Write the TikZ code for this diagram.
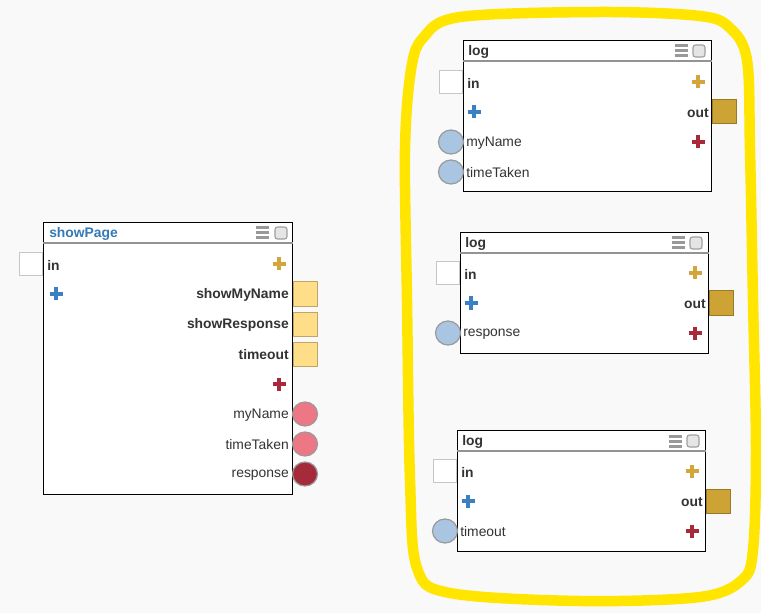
\documentclass[tikz,border=0pt]{standalone}
\usepackage{fontspec}
\setmainfont{Liberation Sans}
\usepackage{tikz}
\usetikzlibrary{positioning,shapes.geometric}
\newcommand{\pxu}{0.75pt}
\definecolor{bgcol}{HTML}{F9F9F9}
\definecolor{textdark}{HTML}{333333}
\definecolor{titleblue}{HTML}{337AB7}
\definecolor{plusgold}{HTML}{D2A63A}
\definecolor{plusblue}{HTML}{3A80C2}
\definecolor{plusred}{HTML}{A8293A}
\definecolor{lightport}{HTML}{FFDE8A}
\definecolor{goldport}{HTML}{CCA334}
\definecolor{pinkport}{HTML}{EE7786}
\definecolor{darkport}{HTML}{A52A3A}
\definecolor{blueport}{HTML}{A9C5E1}
\definecolor{marker}{HTML}{FFE500}

\begin{document}
\begin{tikzpicture}[x=0.75pt, y=-0.75pt,
  block/.style={draw=black, fill=white, line width=1.3*\pxu, anchor=north west, inner sep=0},
  titlerule/.style={draw=gray!85, line width=1.2*\pxu},
  lbl/.style={inner sep=0, text=textdark, font=\fontsize{10.4}{12}\selectfont},
  blbl/.style={lbl, font=\bfseries\fontsize{10.4}{12}\selectfont},
  inport/.style={draw=gray!45, fill=white, line width=\pxu, minimum size=23*\pxu, anchor=east, inner sep=0},
  outport/.style={draw=#1!75!black, fill=#1, line width=\pxu, minimum size=24*\pxu, anchor=west, inner sep=0},
  dotport/.style={ellipse, draw=gray!80, fill=#1, line width=1.2*\pxu, minimum width=25*\pxu, minimum height=24*\pxu, inner sep=0},
  addmark/.pic={\draw[line width=3.6*\pxu] (-6.5,0) -- (6.5,0) (0,-6.5) -- (0,6.5);},
  menumark/.pic={\draw[gray!80, line width=3*\pxu] (-6.5,-5) -- (6.5,-5) (-6.5,0) -- (6.5,0) (-6.5,5) -- (6.5,5);},
  boxmark/.pic={\draw[gray!75, fill=gray!20, rounded corners=2.5*\pxu, line width=1.1*\pxu] (-6,-6) rectangle (6,6);}
]
\fill[bgcol] (0,0) rectangle (761,613);
\useasboundingbox (0,0) rectangle (761,613);

% showPage block
\node[block, minimum width=249*\pxu, minimum height=272*\pxu] (showpage) at (43,222) {};
\draw[titlerule] ([yshift=-21*\pxu]showpage.north west) -- ([yshift=-21*\pxu]showpage.north east);
\node[blbl, text=titleblue, anchor=west] (sp-title) at (49,234) {showPage};
\pic at (262,233) {menumark};
\pic at (281,233) {boxmark};
\node[inport] (sp-in) at (43,264) {};
\node[blbl, anchor=west] (sp-inl) at (47,265) {in};
\pic[color=plusgold] at (279,264) {addmark};
\pic[color=plusblue] at (56,294) {addmark};
\foreach \y/\name in {294/showMyName, 324/showResponse, 354/timeout} {
  \node[blbl, anchor=east] (sp-\name-l) at (289,\y+1) {\name};
  \node[outport=lightport] (sp-\name) at (293,\y) {};
}
\pic[color=plusred] at (279,384) {addmark};
\foreach \y/\name/\col in {414/myName/pinkport, 444/timeTaken/pinkport, 474/response/darkport} {
  \node[lbl, anchor=east] (sp-\name-l) at (289,\y+1) {\name};
  \node[dotport=\col] (sp-\name) at (305,\y) {};
}

% log blocks
\node[block, minimum width=248*\pxu, minimum height=151*\pxu] (logname) at (463,40) {};
\draw[titlerule] ([yshift=-21*\pxu]logname.north west) -- ([yshift=-21*\pxu]logname.north east);
\node[blbl, anchor=west] (ln-title) at (468,52) {log};
\pic at (681,51) {menumark};
\pic at (699,51) {boxmark};
\node[inport] (ln-in) at (463,82) {};
\node[blbl, anchor=west] (ln-inl) at (467,83) {in};
\pic[color=plusgold] at (698,82) {addmark};
\pic[color=plusblue] at (474,112) {addmark};
\node[blbl, anchor=east] (ln-outl) at (709,113) {out};
\node[outport=goldport] (ln-out) at (712,112) {};
\node[dotport=blueport] (ln-myName) at (451,142) {};
\node[lbl, anchor=west] (ln-myName-l) at (466,143) {myName};
\pic[color=plusred] at (698,142) {addmark};
\node[dotport=blueport] (ln-timeTaken) at (451,172) {};
\node[lbl, anchor=west] (ln-timeTaken-l) at (466,173) {timeTaken};

\node[block, minimum width=248*\pxu, minimum height=121*\pxu] (logresp) at (460,232) {};
\draw[titlerule] ([yshift=-21*\pxu]logresp.north west) -- ([yshift=-21*\pxu]logresp.north east);
\node[blbl, anchor=west] (lr-title) at (465,244) {log};
\pic at (678,243) {menumark};
\pic at (696,243) {boxmark};
\node[inport] (lr-in) at (460,273) {};
\node[blbl, anchor=west] (lr-inl) at (464,274) {in};
\pic[color=plusgold] at (695,273) {addmark};
\pic[color=plusblue] at (471,303) {addmark};
\node[blbl, anchor=east] (lr-outl) at (706,304) {out};
\node[outport=goldport] (lr-out) at (709,303) {};
\node[dotport=blueport] (lr-response) at (448,333) {};
\node[lbl, anchor=west] (lr-response-l) at (463,334) {response};
\pic[color=plusred] at (695,333) {addmark};

\node[block, minimum width=248*\pxu, minimum height=121*\pxu] (logtime) at (457,430) {};
\draw[titlerule] ([yshift=-21*\pxu]logtime.north west) -- ([yshift=-21*\pxu]logtime.north east);
\node[blbl, anchor=west] (lt-title) at (462,442) {log};
\pic at (675,441) {menumark};
\pic at (693,441) {boxmark};
\node[inport] (lt-in) at (457,471) {};
\node[blbl, anchor=west] (lt-inl) at (461,472) {in};
\pic[color=plusgold] at (692,471) {addmark};
\pic[color=plusblue] at (468,501) {addmark};
\node[blbl, anchor=east] (lt-outl) at (703,502) {out};
\node[outport=goldport] (lt-out) at (706,501) {};
\node[dotport=blueport] (lt-timeout) at (445,531) {};
\node[lbl, anchor=west] (lt-timeout-l) at (460,532) {timeout};
\pic[color=plusred] at (692,531) {addmark};

% hand-drawn marker round the log blocks
\draw[marker, line width=10.5*\pxu, line join=round] plot[smooth cycle, tension=0.55] coordinates {
  (423,38) (460,17) (600,12) (700,16) (730,28) (747,60) (750,150) (753,300) (756,450)
  (753,550) (742,580) (700,597) (580,601) (450,593) (417,568) (410,480) (407,300) (405,150) (411,70)};
\end{tikzpicture}
\end{document}
